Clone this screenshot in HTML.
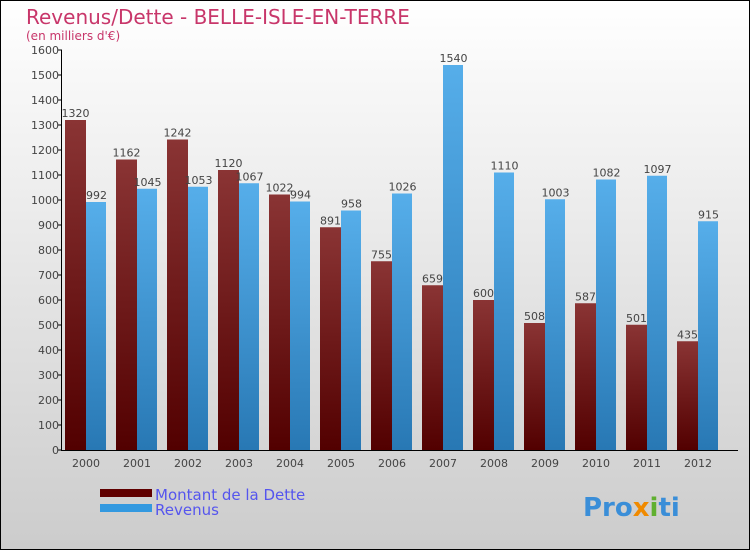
<!DOCTYPE html>
<html><head><meta charset="utf-8"><style>
body{margin:0}
#c{position:relative;width:748px;height:548px;border:1px solid #000;background:linear-gradient(#fff,#ccc);font-family:"DejaVu Sans","Liberation Sans",sans-serif;overflow:hidden}
</style></head><body>
<div id="c">
<svg width="748" height="548">
<defs>
<linearGradient id="gd" x1="0" y1="0" x2="0" y2="1"><stop offset="0" stop-color="#8a3434"/><stop offset="1" stop-color="#520000"/></linearGradient>
<linearGradient id="gr" x1="0" y1="0" x2="0" y2="1"><stop offset="0" stop-color="#56aeea"/><stop offset="1" stop-color="#2878b4"/></linearGradient>
</defs>
<text x="25" y="23" font-size="20" fill="#c8366a">Revenus/Dette - BELLE-ISLE-EN-TERRE</text>
<text x="25" y="39" font-size="12" fill="#c8366a">(en milliers d'€)</text>
<g id="bars"></g>
<g id="axes"></g>
<rect x="99" y="488" width="52" height="8" fill="#600000"/>
<rect x="99" y="503" width="52" height="8" fill="#3399e0"/>
<text x="154" y="499" font-size="15" fill="#5555ee">Montant de la Dette</text>
<text x="154" y="514" font-size="15" fill="#5555ee">Revenus</text>
<text x="582" y="515" font-size="26" font-weight="bold" fill="#3a8ed8">Pro<tspan fill="#f08a00">x</tspan><tspan fill="#60b030">i</tspan>ti</text>
</svg>
</div>
<script>
const years=["2000","2001","2002","2003","2004","2005","2006","2007","2008","2009","2010","2011","2012"];
const dette=[1320,1162,1242,1120,1022,891,755,659,600,508,587,501,435];
const revenus=[992,1045,1053,1067,994,958,1026,1540,1110,1003,1082,1097,915];
const ticks=[0,100,200,300,400,500,600,700,800,900,1000,1100,1200,1300,1400,1500,1600];
const NS="http://www.w3.org/2000/svg";
const y0=449,sc=0.25,x0=64,step=51,bw=21;
const Y=v=>y0-v*sc, X=i=>x0+i*step;
function mk(t,a,p){const e=document.createElementNS(NS,t);for(const k in a)e.setAttribute(k,a[k]);p.appendChild(e);return e;}
const bars=document.getElementById('bars'),axes=document.getElementById('axes');
years.forEach((yr,i)=>{
 const a=mk('rect',{x:X(i),y:Y(dette[i]),width:bw,height:dette[i]*sc,fill:'url(#gd)'},bars);
 
 
 const b=mk('rect',{x:X(i)+bw,y:Y(revenus[i]),width:bw-1,height:revenus[i]*sc,fill:'url(#gr)'},bars);
 
 
 const t1=mk('text',{x:X(i)+bw/2,y:Y(dette[i])-3,'font-size':11,fill:'#444','text-anchor':'middle'},bars);t1.textContent=dette[i];
 
 
 const t2=mk('text',{x:X(i)+bw*1.5,y:Y(revenus[i])-3,'font-size':11,fill:'#444','text-anchor':'middle'},bars);t2.textContent=revenus[i];
 
 
 const t3=mk('text',{x:X(i)+bw,y:y0+17,'font-size':11,fill:'#444','text-anchor':'middle'},axes);t3.textContent=yr;
 
 
});
ticks.forEach(v=>{
 mk('line',{x1:57,x2:61,y1:Y(v),y2:Y(v),stroke:'#000'},axes);
 const t=mk('text',{x:58,y:Y(v)+4,'font-size':11,fill:'#444','text-anchor':'end'},axes);t.textContent=v;
 
 
});
const ya=mk('line',{x1:60.5,x2:60.5,y1:Y(1600),y2:y0+1,stroke:'#000'},axes);


const xa=mk('line',{x1:60,x2:737,y1:y0+0.5,y2:y0+0.5,stroke:'#000'},axes);


</script>
</body></html>
